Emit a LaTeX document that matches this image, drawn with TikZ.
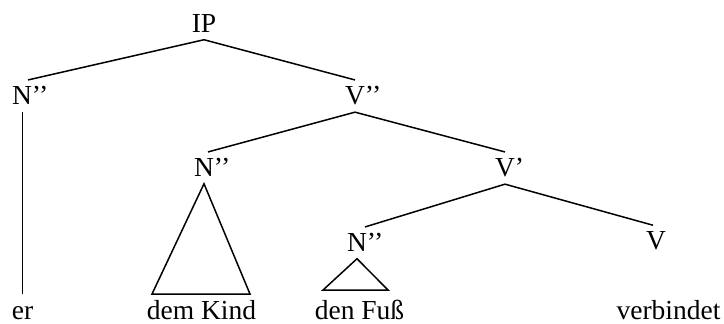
\documentclass[tikz,border=0pt]{standalone}
\usepackage{fontspec}
\setmainfont{Liberation Serif}
\begin{document}
\begin{tikzpicture}[x=0.5pt, y=-0.5pt, line width=0.75pt,
    cat/.style={anchor=base, inner xsep=0pt, inner ysep=3pt, font=\fontsize{13.75}{16}\selectfont},
    word/.style={cat, text height=9.6pt}]
    \useasboundingbox (0,0) rectangle (724,324);
    \node[cat] (IP) at (204,33) {IP};
    \node[cat] (N1) at (22,105) {N\rlap{’’}};
    \node[cat] (V2) at (355,105) {V\rlap{’’}};
    \node[cat] (N2) at (204,177) {N\rlap{’’}};
    \node[cat] (V1) at (505,177) {V\rlap{’}};
    \node[cat] (N3) at (357,252) {N\rlap{’’}};
    \node[cat] (V) at (656,250) {V};
    \node[word] (er) at (22.5,320) {er};
    \node[word] (DK) at (201.5,320) {dem Kind};
    \node[word] (DF) at (359.5,320) {den Fuß};
    \node[word] (vb) at (668.5,320) {verbindet};
    \draw ([xshift=3pt]N1.north) -- (IP.south) -- (V2.north);
    \draw ([xshift=2pt]N2.north) -- (V2.south) -- (V1.north);
    \draw ([xshift=4pt]N3.north) -- (V1.south) -- ([xshift=-1.5pt]V.north);
    \draw (N1.south -| er.north) -- (er.north);
    \draw (N2.south) -- ([xshift=-24.75pt]DK.north) -- ([xshift=24.25pt]DK.north) -- cycle;
    \draw (N3.south) -- ([shift={(-18.25pt,2pt)}]DF.north) -- ([shift={(14.25pt,2pt)}]DF.north) -- cycle;
\end{tikzpicture}
\end{document}
